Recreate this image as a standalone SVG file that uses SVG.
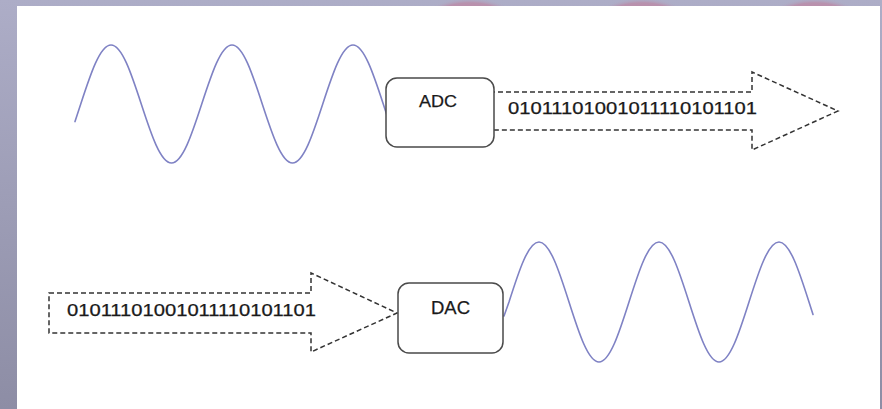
<svg xmlns="http://www.w3.org/2000/svg" width="882" height="409" viewBox="0 0 882 409">
  <defs>
    <linearGradient id="bg" x1="0" y1="0" x2="0" y2="1">
      <stop offset="0" stop-color="#adadc7"/>
      <stop offset="1" stop-color="#8d8da5"/>
    </linearGradient>
    <radialGradient id="blob">
      <stop offset="0" stop-color="#c3849f"/>
      <stop offset="0.8" stop-color="#b892ae"/>
      <stop offset="1" stop-color="#adadc7" stop-opacity="0"/>
    </radialGradient>
    <clipPath id="topband"><rect x="0" y="0" width="882" height="6"/></clipPath>
  </defs>
  <style>
    .box { fill: #ffffff; stroke: #4a4a4a; stroke-width: 1.5; }
    .arrow { fill: #ffffff; stroke: #333333; stroke-width: 1.5; stroke-dasharray: 5 3; stroke-linejoin: miter; }
    .wave { fill: none; stroke: #7f82c4; stroke-width: 1.6; stroke-linecap: round; stroke-linejoin: round; }
    .lbl { font-family: "Liberation Sans", Arial, sans-serif; fill: #1a1a1a; stroke: #1a1a1a; stroke-width: 0.25; }
    .bits { font-family: "Liberation Sans", Arial, sans-serif; font-size: 16px; fill: #1a1a1a; stroke: #1a1a1a; stroke-width: 0.25; }
  </style>

  <!-- background frame -->
  <rect x="0" y="0" width="882" height="409" fill="url(#bg)"/>
  <g clip-path="url(#topband)">
    <ellipse cx="470" cy="22" rx="50" ry="24" fill="url(#blob)"/>
    <ellipse cx="642" cy="22" rx="50" ry="24" fill="url(#blob)"/>
    <ellipse cx="815" cy="22" rx="50" ry="24" fill="url(#blob)"/>
  </g>
  <rect x="17" y="6" width="863" height="403" fill="#ffffff"/>

  <!-- waves -->
  <g id="wave-analog-in">
    <path class="wave" d="M75,121.6 L80.75,104 c9.866,-30.23 19.353,-59 30.25,-59 c10.898,0 20.385,28.77 30.25,59 c9.866,30.23 19.353,59 30.25,59 c10.898,0 20.385,-28.77 30.25,-59 c9.866,-30.23 19.353,-59 30.25,-59 c10.898,0 20.385,28.77 30.25,59 c9.866,30.23 19.353,59 30.25,59 c10.898,0 20.385,-28.77 30.25,-59 c9.866,-30.23 19.353,-59 30.25,-59 c10.898,0 20.385,28.77 30.25,59 L387,115.4"/>
  </g>
  <g id="wave-analog-out">
    <path class="wave" d="M504,316 L509,302 c9.784,-30.74 19.193,-60 30,-60 c10.808,0 20.216,29.26 30,60 c9.784,30.74 19.193,60 30,60 c10.808,0 20.216,-29.26 30,-60 c9.784,-30.74 19.193,-60 30,-60 c10.808,0 20.216,29.26 30,60 c9.784,30.74 19.193,60 30,60 c10.808,0 20.216,-29.26 30,-60 c9.784,-30.74 19.193,-60 30,-60 c10.808,0 20.216,29.26 30,60 L813,314.5"/>
  </g>

  <!-- connectors: dashed block arrows carrying the bit stream -->
  <g id="connectors">
    <g id="arrow-digital-out">
      <path class="arrow" d="M490,92 L752,92 L752,72 L838,111 L752,150 L752,130 L490,130 Z"/>
      <text class="bits" x="508" y="114" textLength="249" lengthAdjust="spacingAndGlyphs">01011101001011110101101</text>
    </g>
    <g id="arrow-digital-in">
      <path class="arrow" d="M49,293 L311,293 L311,273 L397,313 L311,352 L311,333 L49,333 Z"/>
      <text class="bits" x="67" y="316" textLength="249" lengthAdjust="spacingAndGlyphs">01011101001011110101101</text>
    </g>
  </g>

  <!-- nodes -->
  <g id="adc">
    <rect class="box" x="386" y="78" width="108" height="69" rx="11" ry="11"/>
    <text class="lbl" x="419" y="107" font-size="16.5" textLength="38" lengthAdjust="spacingAndGlyphs">ADC</text>
  </g>
  <g id="dac">
    <rect class="box" x="398" y="283" width="105" height="70" rx="11" ry="11"/>
    <text class="lbl" x="431" y="314" font-size="17.5" textLength="39" lengthAdjust="spacingAndGlyphs">DAC</text>
  </g>
</svg>
